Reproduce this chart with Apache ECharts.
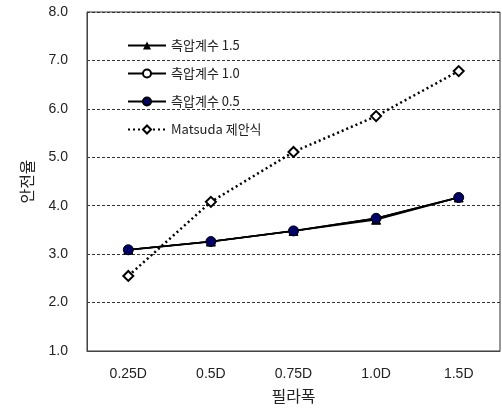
<!DOCTYPE html>
<html><head><meta charset="utf-8">
<script src="https://cdn.jsdelivr.net/npm/echarts@6/dist/echarts.min.js"></script>
<style>html,body{margin:0;padding:0;background:#fff}#c{width:502px;height:414px}</style>
</head><body><div id="c"></div>
<script>
const categories = ['0.25D', '0.5D', '0.75D', '1.0D', '1.5D'];
const yTicks = [1, 2, 3, 4, 5, 6, 7, 8];
const k15 = [3.09, 3.26, 3.48, 3.71, 4.17];
const k10 = [3.09, 3.26, 3.48, 3.74, 4.17];
const k05 = [3.09, 3.26, 3.48, 3.74, 4.17];
const matsuda = [2.55, 4.08, 5.11, 5.85, 6.78];
const names = ['측압계수 1.5', '측압계수 1.0', '측압계수 0.5', 'Matsuda 제안식'];

const font = 'Liberation Sans, Arial, sans-serif';
const kfont = 'Noto Sans CJK KR, Liberation Sans, sans-serif';
const chart = echarts.init(document.getElementById('c'), null, {renderer: 'canvas'});
chart.setOption({
  animation: false,
  grid: {left: 87, right: 2, top: 12, bottom: 63, show: true, borderColor: '#333', borderWidth: 1, backgroundColor: 'transparent'},
  legend: {
    orient: 'vertical', left: 122, top: 34, itemWidth: 38, itemHeight: 10, itemGap: 15,
    textStyle: {fontFamily: kfont, fontSize: 13, color: '#222'},
    data: names
  },
  xAxis: {
    type: 'category', data: categories, boundaryGap: true,
    name: '필라폭', nameLocation: 'middle', nameGap: 37,
    nameTextStyle: {fontFamily: kfont, fontSize: 16, color: '#222'},
    axisLine: {lineStyle: {color: '#444', width: 1}},
    axisTick: {inside: true, length: 5, lineStyle: {color: '#444'}},
    axisLabel: {margin: 16, fontFamily: font, fontSize: 14, color: '#222'},
    splitLine: {show: false}
  },
  yAxis: {
    type: 'value', min: yTicks[0], max: yTicks[yTicks.length - 1], interval: 1,
    name: '안전율', nameLocation: 'middle', nameGap: 52, nameRotate: 90,
    nameTextStyle: {fontFamily: kfont, fontSize: 16, color: '#222'},
    axisLine: {show: true, lineStyle: {color: '#444', width: 1}},
    axisTick: {show: false},
    axisLabel: {margin: 19, fontFamily: font, fontSize: 14, color: '#222', formatter: v => v.toFixed(1)},
    splitLine: {show: true, lineStyle: {color: '#333', type: [3, 2], width: 1}}
  },
  series: [
    {name: names[0], type: 'line', data: k15, symbol: 'triangle', symbolSize: 9,
     lineStyle: {color: '#000', width: 1.5}, itemStyle: {color: '#000', borderColor: '#000'}, z: 2},
    {name: names[1], type: 'line', data: k10, symbol: 'circle', symbolSize: 8,
     lineStyle: {color: '#000', width: 1.5}, itemStyle: {color: '#fff', borderColor: '#000', borderWidth: 1}, z: 3},
    {name: names[2], type: 'line', data: k05, symbol: 'circle', symbolSize: 10,
     lineStyle: {color: '#000', width: 1.8}, itemStyle: {color: '#000066', borderColor: '#000', borderWidth: 1}, z: 4},
    {name: names[3], type: 'line', data: matsuda, symbol: 'diamond', symbolSize: 10,
     lineStyle: {color: '#000', width: 2.5, type: [2, 3]}, itemStyle: {color: '#fff', borderColor: '#000', borderWidth: 2}, z: 5}
  ]
});
</script></body></html>
